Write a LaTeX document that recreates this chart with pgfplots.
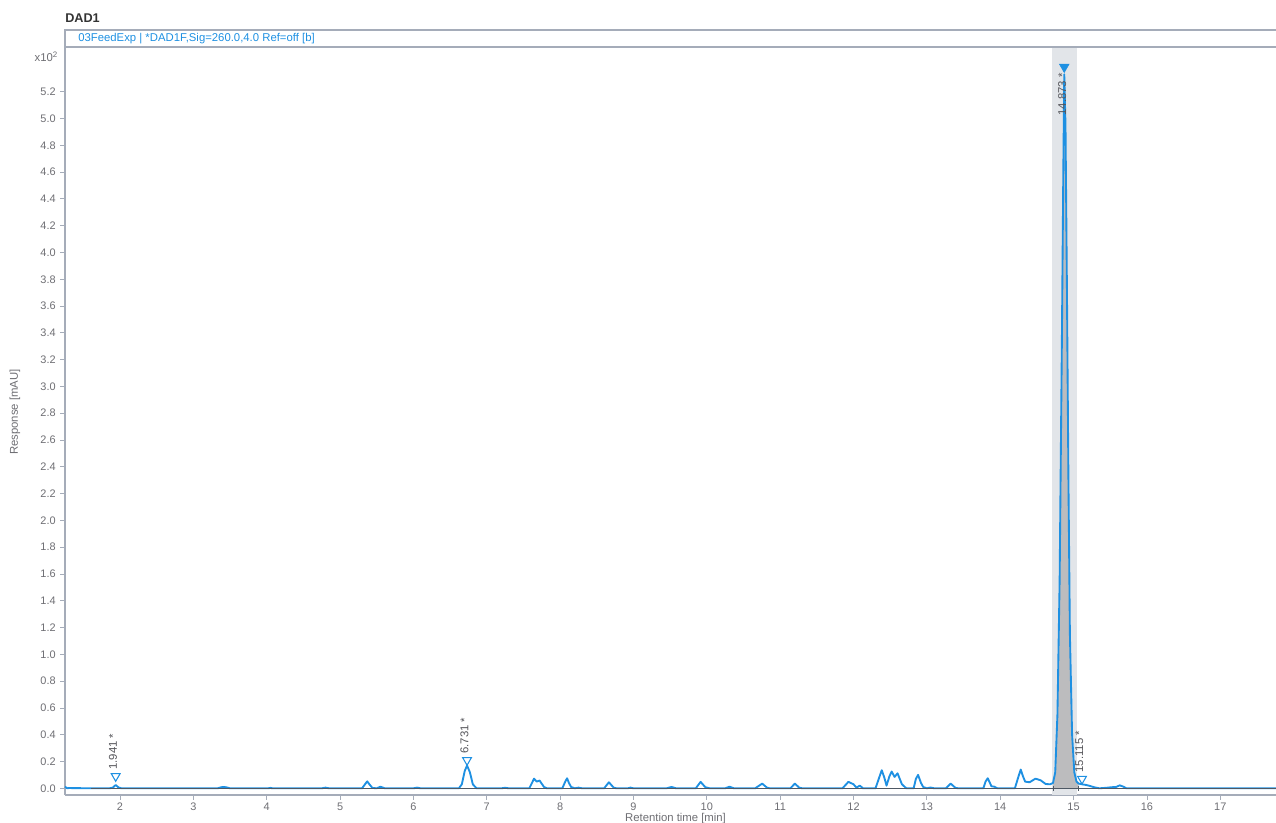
\documentclass[border=0pt]{standalone}
\usepackage{fontspec}
\setmainfont{Liberation Sans}
\usepackage{pgfplots}
\pgfplotsset{compat=1.18}
\usepackage{pgfplotstable}

\definecolor{sig}{RGB}{30,144,226}
\definecolor{axgray}{RGB}{165,172,185}
\definecolor{lblgray}{RGB}{110,110,115}
\definecolor{band}{RGB}{226,229,233}
\definecolor{area}{RGB}{188,188,190}
\definecolor{basecol}{RGB}{78,88,100}
\definecolor{pktext}{RGB}{85,85,90}

% DAD1 signal, 260 nm (response in units of 100 mAU)
\pgfplotstableread{
t r
1.25 0.012
1.28 0.0
1.30 0.002
1.60 0.0
1.85 0.0
1.90 0.004
1.941 0.025
1.98 0.006
2.02 0.0
3.33 0.0
3.38 0.008
3.42 0.01
3.46 0.006
3.50 0.0
4.02 0.0
4.05 0.003
4.08 0.0
4.75 0.0
4.80 0.005
4.85 0.0
5.30 0.0
5.34 0.03
5.37 0.052
5.40 0.03
5.44 0.003
5.50 0.0
5.55 0.012
5.61 0.0
6.00 0.0
6.05 0.005
6.10 0.0
6.62 0.0
6.66 0.03
6.70 0.13
6.731 0.17
6.77 0.12
6.81 0.03
6.86 0.0
7.20 0.0
7.25 0.004
7.30 0.0
7.58 0.0
7.645 0.072
7.68 0.05
7.72 0.058
7.78 0.01
7.82 0.0
8.03 0.0
8.07 0.05
8.095 0.075
8.12 0.04
8.15 0.01
8.20 0.0
8.25 0.005
8.30 0.0
8.60 0.0
8.665 0.045
8.73 0.005
8.77 0.0
8.92 0.0
8.96 0.005
9.00 0.0
9.45 0.0
9.52 0.01
9.58 0.0
9.85 0.0
9.915 0.048
9.98 0.008
10.04 0.0
10.25 0.0
10.31 0.012
10.37 0.0
10.66 0.0
10.755 0.035
10.82 0.005
10.86 0.0
11.14 0.0
11.20 0.035
11.26 0.005
11.30 0.0
11.85 0.0
11.93 0.048
12.00 0.03
12.04 0.005
12.085 0.02
12.13 0.0
12.30 0.0
12.35 0.08
12.385 0.135
12.42 0.08
12.45 0.02
12.49 0.09
12.52 0.125
12.56 0.085
12.60 0.112
12.66 0.03
12.72 0.0
12.82 0.0
12.85 0.07
12.88 0.10
12.92 0.04
12.95 0.01
13.00 0.0
13.05 0.006
13.10 0.0
13.26 0.0
13.325 0.035
13.39 0.003
13.43 0.0
13.77 0.0
13.80 0.05
13.83 0.075
13.86 0.04
13.88 0.015
13.92 0.012
13.96 0.0
14.20 0.0
14.25 0.09
14.28 0.14
14.31 0.09
14.34 0.05
14.40 0.045
14.48 0.072
14.55 0.06
14.62 0.032
14.68 0.03
14.72 0.04
14.75 0.12
14.78 0.55
14.81 1.55
14.84 3.3
14.86 4.6
14.873 5.33
14.89 4.95
14.91 3.7
14.93 2.3
14.95 1.15
14.98 0.4
15.01 0.12
15.04 0.05
15.07 0.035
15.115 0.03
15.17 0.025
15.22 0.018
15.28 0.008
15.35 0.0
15.45 0.004
15.52 0.008
15.58 0.01
15.63 0.022
15.68 0.012
15.72 0.0
17.76 0.0
}\signal

% integrated peaks (retention time, marker height)
\pgfplotstableread{
t r
1.941 0.09
6.731 0.21
15.115 0.07
}\minorpeaks

\pgfplotstableread{
t r
14.873 5.385
}\mainpeak

\begin{document}
\begin{tikzpicture}
\useasboundingbox (-48.75pt,-21pt) rectangle (908.25pt,596.25pt);
\begin{axis}[
  name=ax, at={(0,0)}, anchor=south west,
  scale only axis, width=908.25pt, height=561pt,
  xmin=1.25, xmax=17.76, ymin=-0.05, ymax=5.534,
  axis lines*=left,
  axis line style={draw=axgray, line width=1pt, -},
  xtick={2,3,4,5,6,7,8,9,10,11,12,13,14,15,16,17},
  ytick={0,0.2,0.4,0.6,0.8,1.0,1.2,1.4,1.6,1.8,2.0,2.2,2.4,2.6,2.8,3.0,3.2,3.4,3.6,3.8,4.0,4.2,4.4,4.6,4.8,5.0,5.2},
  tick align=outside, major tick length=3.5pt,
  tick style={draw=axgray, line width=0.6pt},
  tick label style={font=\fontsize{8.2}{10}\selectfont, text=lblgray},
  xticklabel style={yshift=1pt},
  yticklabel style={/pgf/number format/.cd, fixed, fixed zerofill, precision=1},
  /pgf/number format/assume math mode=true,
  clip=false,
]
% integration window band
\addplot[fill=band, draw=none] coordinates {(14.70,-0.05) (15.05,-0.05) (15.05,5.534) (14.70,5.534)} -- cycle;
% integrated area of main peak
\addplot[fill=area, draw=none, restrict x to domain=14.72:15.07] table[x=t, y=r] {\signal} \closedcycle;
% signal
\addplot[sig, line width=1.4pt, line join=round] table[x=t, y=r] {\signal};
% baseline
\addplot[basecol, line width=0.9pt] coordinates {(1.6,0) (17.76,0)};
\addplot[basecol, only marks, mark=|, mark size=1.8pt, mark options={line width=0.6pt}] coordinates {(14.72,0) (15.07,0)};
% peak markers and retention time labels
\addplot[sig, only marks, mark=triangle, mark size=3.8pt, mark options={rotate=180, line width=0.8pt},
  point meta=x,
  nodes near coords={\pgfmathprintnumber[fixed,fixed zerofill,precision=3]{\pgfplotspointmeta} *},
  every node near coord/.append style={font=\fontsize{8.5}{10}\selectfont, text=pktext, yshift=3.5pt, xshift=-2pt, rotate=90, anchor=west, inner sep=1pt}]
  table[x=t, y=r] {\minorpeaks};
\addplot[sig, only marks, mark=triangle*, mark size=4.2pt, mark options={rotate=180, fill=sig},
  point meta=x,
  nodes near coords={\pgfmathprintnumber[fixed,fixed zerofill,precision=3]{\pgfplotspointmeta} *},
  every node near coord/.append style={font=\fontsize{8.5}{10}\selectfont, text=pktext, yshift=-3.5pt, xshift=-1.5pt, rotate=90, anchor=east, inner sep=1pt}]
  table[x=t, y=r] {\mainpeak};
\end{axis}
% signal description box and title
\draw[axgray, line width=0.8pt] ([xshift=20pt]ax.north east) -- (ax.north west) -- ([yshift=12.75pt]ax.north west) -- ([xshift=20pt, yshift=12.75pt]ax.north east);
\node[anchor=west, text=sig, font=\fontsize{8.5}{10}\selectfont, inner sep=0pt] at ([xshift=9.75pt, yshift=6.4pt]ax.north west) {03FeedExp | *DAD1F,Sig=260.0,4.0 Ref=off [b]};
\node[anchor=west, text=black!80, font=\bfseries\fontsize{9.5}{11}\selectfont, inner sep=0pt] at ([yshift=21.75pt]ax.north west) {DAD1};
\node[anchor=east, text=lblgray, font=\fontsize{8.5}{10}\selectfont, inner sep=0pt] at ([xshift=-5pt, yshift=-7.5pt]ax.north west) {x10\textsuperscript{2}};
% axis titles
\node[rotate=90, text=lblgray, font=\fontsize{8.5}{10}\selectfont] at ([xshift=-37.5pt, yshift=6.75pt]ax.west) {Response [mAU]};
\node[text=lblgray, font=\fontsize{8.5}{10}\selectfont, inner sep=0pt] at ([xshift=3.75pt, yshift=-17.6pt]ax.south) {Retention time [min]};
\end{tikzpicture}
\end{document}
